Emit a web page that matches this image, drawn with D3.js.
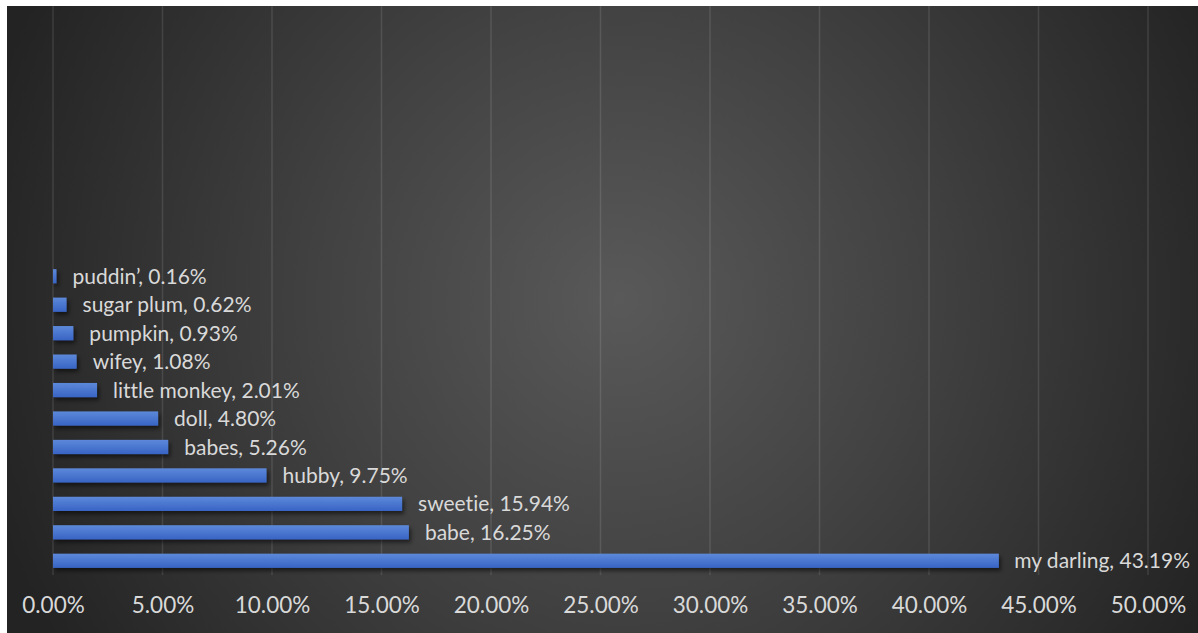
<!DOCTYPE html>
<html>
<head>
<meta charset="utf-8">
<script src="https://cdn.jsdelivr.net/npm/d3@7"></script>
<style>
  html, body { margin: 0; padding: 0; background: #ffffff; }
  svg { display: block; }
  text { font-variant-ligatures: none; font-feature-settings: "liga" 0; }
</style>
</head>
<body>
<svg id="chart" width="1198" height="633"></svg>
<script>
// Terms of endearment and their share of mentions (bottom to top)
const categories = ["my darling", "babe", "sweetie", "hubby", "babes", "doll",
                    "little monkey", "wifey", "pumpkin", "sugar plum", "puddin\u2019"];
const shares = [43.19, 16.25, 15.94, 9.75, 5.26, 4.80, 2.01, 1.08, 0.93, 0.62, 0.16];
const xTicks = [0, 5, 10, 15, 20, 25, 30, 35, 40, 45, 50];
// The category axis reserves room for 20 slots; the upper ones stay empty.
const slotCount = 20;

const W = 1198, H = 633;
const svg = d3.select("#chart");
const defs = svg.append("defs");

// Background: dark charcoal with a soft lighter glow in the middle
const bg = defs.append("radialGradient")
  .attr("id", "bgGrad")
  .attr("gradientUnits", "userSpaceOnUse")
  .attr("cx", 620).attr("cy", 300).attr("r", 660);
bg.append("stop").attr("offset", "0%").attr("stop-color", "#595959");
bg.append("stop").attr("offset", "45%").attr("stop-color", "#424242");
bg.append("stop").attr("offset", "100%").attr("stop-color", "#232323");

// Bar fill: light blue at top edge fading to deeper blue
const barGrad = defs.append("linearGradient")
  .attr("id", "barGrad").attr("x1", 0).attr("y1", 0).attr("x2", 0).attr("y2", 1);
barGrad.append("stop").attr("offset", "0%").attr("stop-color", "#5d89da");
barGrad.append("stop").attr("offset", "100%").attr("stop-color", "#3864c4");

const shadow = defs.append("filter").attr("id", "barShadow")
  .attr("x", "-5%").attr("y", "-50%").attr("width", "115%").attr("height", "250%");
shadow.append("feDropShadow")
  .attr("dx", 2).attr("dy", 3).attr("stdDeviation", 2)
  .attr("flood-color", "#000").attr("flood-opacity", 0.55);

svg.append("rect")
  .attr("x", 7).attr("y", 6).attr("width", W - 7).attr("height", H - 6)
  .attr("fill", "url(#bgGrad)");

const plot = { left: 53, right: 1148, top: 6, bottom: 575 };

const x = d3.scaleLinear().domain([0, 50]).range([plot.left, plot.right]);
const y = d3.scaleBand()
  .domain(d3.range(slotCount))
  .range([plot.bottom, plot.top])
  .paddingInner(0.5).paddingOuter(0.25);

// Vertical gridlines
svg.append("g")
  .selectAll("line")
  .data(xTicks)
  .join("line")
  .attr("x1", d => x(d)).attr("x2", d => x(d))
  .attr("y1", plot.top).attr("y2", plot.bottom)
  .attr("stroke", "rgba(255,255,255,0.11)")
  .attr("stroke-width", 1.5);

// x axis labels
const xAxis = d3.axisBottom(x)
  .tickValues(xTicks)
  .tickFormat(d => d.toFixed(2) + "%")
  .tickSize(0).tickPadding(0);
const gx = svg.append("g")
  .attr("transform", `translate(0,${plot.bottom})`)
  .call(xAxis);
gx.select(".domain").remove();
gx.selectAll("text")
  .attr("dy", 0).attr("y", 38)
  .attr("fill", "#d9d9d9")
  .style("font-family", "Lato, 'Open Sans', sans-serif")
  .style("font-size", "22.5px");

const rows = categories.map((c, i) => ({ name: c, value: shares[i], slot: i }));

// Bars
svg.append("g")
  .attr("filter", "url(#barShadow)")
  .selectAll("rect")
  .data(rows)
  .join("rect")
  .attr("x", x(0))
  .attr("y", d => y(d.slot))
  .attr("width", d => x(d.value) - x(0))
  .attr("height", y.bandwidth())
  .attr("fill", "url(#barGrad)");

// Value labels "name, value%"
const labels = svg.append("g")
  .selectAll("text")
  .data(rows)
  .join("text")
  .attr("x", d => x(d.value) + 16)
  .attr("y", d => y(d.slot) + y.bandwidth() / 2)
  .attr("dy", "0.36em")
  .attr("fill", "#d9d9d9")
  .style("font-family", "Lato, 'Open Sans', sans-serif")
  .style("font-size", "21px")
  .text(d => `${d.name}, ${d.value.toFixed(2)}%`);

// Keep labels inside the chart's right edge
labels.each(function () {
  const w = this.getComputedTextLength();
  const cur = +this.getAttribute("x");
  const maxRight = W - 8;
  if (cur + w > maxRight) this.setAttribute("x", Math.max(maxRight - w, cur - 9));
});
</script>
</body>
</html>
